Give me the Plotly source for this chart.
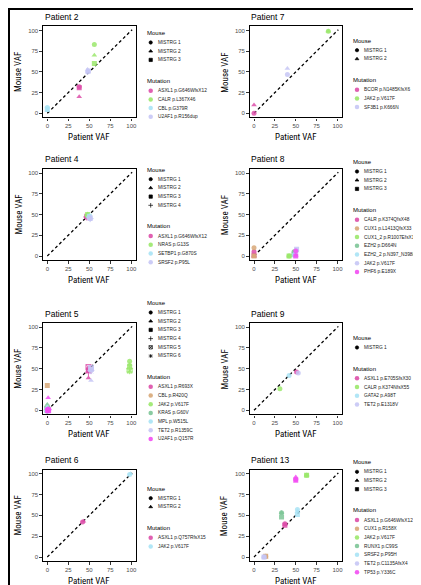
import plotly.graph_objects as go

W, H = 421, 585

# ---------------- data ----------------
mouse_names = ["MISTRG 1", "MISTRG 2", "MISTRG 3", "MISTRG 4", "MISTRG 5", "MISTRG 6"]
tick_values = [0, 25, 50, 75, 100]

# Patient 2
p2_mutations = ["ASXL1 p.G646WfsX12", "CALR p.L367X46", "CBL p.G379R", "U2AF1 p.R156dup"]
p2_mut = [0, 0, 0, 1, 1, 1, 2, 2, 2, 3, 3, 3]
p2_mouse = [1, 2, 3, 1, 2, 3, 1, 2, 3, 1, 2, 3]
p2_patient_vaf = [38, 38, 38, 56, 56, 56, 0, 0, 0, 48, 48, 49]
p2_mouse_vaf = [32, 20, 31, 83, 70, 60, 7, 3, 5, 50, 53, 51]

# Patient 7
p7_mutations = ["BCOR p.N1485KfsX6", "JAK2 p.V617F", "SF3B1 p.K666N"]
p7_mut = [0, 0, 1, 1, 2, 2]
p7_mouse = [1, 2, 1, 2, 1, 2]
p7_patient_vaf = [0, 0, 89, 89, 40, 40]
p7_mouse_vaf = [0, 10, 99, 99, 47, 54]

# Patient 4
p4_mutations = ["ASXL1 p.G646WfsX12", "NRAS p.G13S", "SETBP1 p.G870S", "SRSF2 p.P95L"]
p4_mut = [0, 0, 0, 0, 1, 1, 1, 1, 2, 2, 2, 2, 3, 3, 3, 3]
p4_mouse = [1, 2, 3, 4, 1, 2, 3, 4, 1, 2, 3, 4, 1, 2, 3, 4]
p4_patient_vaf = [47, 47, 47, 47, 48, 48, 48, 48, 50, 50, 50, 50, 51, 51, 51, 51]
p4_mouse_vaf = [47, 46, 48, 47, 49, 48, 50, 49, 47, 46, 48, 47, 45, 44, 46, 45]

# Patient 8
p8_mutations = ["CALR p.K374QfsX48", "CUX1 p.L1413QfsX33", "CUX1_2 p.R1007EfsX11", "EZH2 p.D664N",
                "EZH2_2 p.N397_N398insX", "JAK2 p.V617F", "PHF6 p.E189X"]
p8_mut = [0, 0, 0, 1, 1, 1, 2, 2, 2, 3, 3, 3, 4, 4, 4, 5, 5, 5, 6, 6, 6]
p8_mouse = [1, 2, 3, 1, 2, 3, 1, 2, 3, 1, 2, 3, 1, 2, 3, 1, 2, 3, 1, 2, 3]
p8_patient_vaf = [0, 0, 0, 0, 0, 0, 42, 42, 42, 48, 48, 48, 49, 49, 49, 51, 51, 51, 50, 50, 50]
p8_mouse_vaf = [5, 0, 1, 10, 0, 0, 0, 0, 0, 5, 3, 2, 2, 3, 1, 7, 6, 8, 6, 1, 0]

# Patient 5
p5_mutations = ["ASXL1 p.R693X", "CBL p.R420Q", "JAK2 p.V617F", "KRAS p.G60V", "MPL p.W515L",
                "TET2 p.R1359C", "U2AF1 p.Q157R"]
p5_mut = [0, 0, 0, 0, 0, 0, 1, 1, 1, 1, 1, 1, 2, 2, 2, 2, 2, 2, 3, 3, 3, 3, 3, 3,
          4, 4, 4, 4, 4, 4, 5, 5, 5, 5, 5, 5, 6, 6, 6, 6, 6, 6]
p5_mouse = [1, 2, 3, 4, 5, 6, 1, 2, 3, 4, 5, 6, 1, 2, 3, 4, 5, 6, 1, 2, 3, 4, 5, 6,
            1, 2, 3, 4, 5, 6, 1, 2, 3, 4, 5, 6, 1, 2, 3, 4, 5, 6]
p5_patient_vaf = [49, 49, 49, 49, 49, 49, 0, 0, 0, 0, 0, 0, 98, 98, 98, 98, 98, 98,
                  0, 0, 0, 0, 0, 0, 0, 0, 0, 0, 0, 0, 52, 52, 52, 52, 52, 52, 1, 1, 1, 1, 1, 1]
p5_mouse_vaf = [50, 39, 48, 45, 52, 47, 0, 0, 30, 0, 1, 0, 59, 55, 53, 50, 48, 47,
                1, 7, 0, 0, 2, 0, 0, 4, 1, 0, 0, 0, 50, 36, 49, 48, 51, 47, 1, 15, 0, 1, 0, 0]

# Patient 9
p9_mutations = ["ASXL1 p.E705SfsX30", "CALR p.K374NfsX55", "GATA2 p.A98T", "TET2 p.E1318V"]
p9_mut = [0, 1, 2, 3]
p9_mouse = [1, 1, 1, 1]
p9_patient_vaf = [51, 31, 42, 53]
p9_mouse_vaf = [46, 26, 42, 45]

# Patient 6
p6_mutations = ["ASXL1 p.Q757RfsX15", "JAK2 p.V617F"]
p6_mut = [0, 0, 1, 1]
p6_mouse = [1, 2, 1, 2]
p6_patient_vaf = [42, 43, 98, 99]
p6_mouse_vaf = [42, 43, 99, 100]

# Patient 13
p13_mutations = ["ASXL1 p.G646WfsX12", "CUX1 p.R158X", "JAK2 p.V617F", "RUNX1 p.C99S",
                 "SRSF2 p.P95H", "TET2 p.C1135AfsX4", "TP53 p.Y336C"]
p13_mut = [0, 0, 0, 1, 1, 1, 2, 2, 2, 3, 3, 3, 4, 4, 4, 5, 5, 5, 6, 6, 6]
p13_mouse = [1, 2, 3, 1, 2, 3, 1, 2, 3, 1, 2, 3, 1, 2, 3, 1, 2, 3, 1, 2, 3]
p13_patient_vaf = [37, 37, 37, 14, 14, 14, 63, 63, 63, 33, 33, 33, 52, 52, 52, 12, 12, 12, 50, 50, 50]
p13_mouse_vaf = [40, 39, 38, 1, 0, 1, 98, 98, 98, 53, 53, 48, 57, 55, 51, 0, 0, 0, 93, 96, 92]

# ---------------- styles ----------------
PINK, TAN, GREEN, MGREEN, LBLUE, LAV, MAG = ("#DD4FA9", "#D8A878", "#9BE86C", "#7DC597",
                                             "#A9E3F5", "#C6C6F5", "#F24EF2")
mouse_symbols = ["circle", "triangle-up", "square", "cross-thin-open", "square-x-open", "asterisk-open"]

panels = [
    dict(title="Patient 2", n_mice=3, muts=p2_mutations, mut=p2_mut, mouse=p2_mouse,
         px=p2_patient_vaf, py=p2_mouse_vaf, colors=[PINK, GREEN, LBLUE, LAV], col=0, row=0, leg_top=25),
    dict(title="Patient 7", n_mice=2, muts=p7_mutations, mut=p7_mut, mouse=p7_mouse,
         px=p7_patient_vaf, py=p7_mouse_vaf, colors=[PINK, GREEN, LAV], col=1, row=0, leg_top=32.7),
    dict(title="Patient 4", n_mice=4, muts=p4_mutations, mut=p4_mut, mouse=p4_mouse,
         px=p4_patient_vaf, py=p4_mouse_vaf, colors=[PINK, GREEN, LBLUE, LAV], col=0, row=1, leg_top=161.7),
    dict(title="Patient 8", n_mice=3, muts=p8_mutations, mut=p8_mut, mouse=p8_mouse,
         px=p8_patient_vaf, py=p8_mouse_vaf, colors=[PINK, TAN, GREEN, MGREEN, LBLUE, LAV, MAG],
         col=1, row=1, leg_top=154),
    dict(title="Patient 5", n_mice=6, muts=p5_mutations, mut=p5_mut, mouse=p5_mouse,
         px=p5_patient_vaf, py=p5_mouse_vaf, colors=[PINK, TAN, GREEN, MGREEN, LBLUE, LAV, MAG],
         col=0, row=2, leg_top=295),
    dict(title="Patient 9", n_mice=1, muts=p9_mutations, mut=p9_mut, mouse=p9_mouse,
         px=p9_patient_vaf, py=p9_mouse_vaf, colors=[PINK, GREEN, LBLUE, LAV], col=1, row=2, leg_top=330),
    dict(title="Patient 6", n_mice=2, muts=p6_mutations, mut=p6_mut, mouse=p6_mouse,
         px=p6_patient_vaf, py=p6_mouse_vaf, colors=[PINK, LBLUE], col=0, row=3, leg_top=480.7),
    dict(title="Patient 13", n_mice=3, muts=p13_mutations, mut=p13_mut, mouse=p13_mouse,
         px=p13_patient_vaf, py=p13_mouse_vaf, colors=[PINK, TAN, GREEN, MGREEN, LBLUE, LAV, MAG],
         col=1, row=3, leg_top=454.3),
]

# pixel layout
col_x0 = [39.3, 246.0]      # pixel of x = 0
col_x100 = [123.3, 329.5]   # pixel of x = 100
row_y0 = [105.3, 248.0, 402.3, 549.0]
row_y100 = [22.5, 165.0, 319.2, 465.7]
leg_title_x = [136.7, 342.7]
leg_mark_x = [142.7, 349.0]
leg_text_x = [147.7, 354.0]
ITEM = 8.7
LEG_FONT = 4.8

def fx(p):
    return p / W

def fy(p):
    return 1 - p / H

TXT_FONT = "Liberation Sans, Arial, sans-serif"
NARROW = "Liberation Sans Narrow, Roboto Condensed, Liberation Sans, sans-serif"

fig = go.Figure()
annotations = []
layout_axes = {}

leg_x, leg_y, leg_sym = [], [], []

for k, p in enumerate(panels):
    n = k + 1
    xname = "x" if n == 1 else f"x{n}"
    yname = "y" if n == 1 else f"y{n}"
    c, r = p["col"], p["row"]
    sx = (col_x100[c] - col_x0[c]) / 100.0
    sy = (row_y0[r] - row_y100[r]) / 100.0
    left = col_x0[c] - 5 * sx
    right = col_x100[c] + 5 * sx
    bottom = row_y0[r] + 5 * sy
    top = row_y100[r] - 5 * sy

    axis_common = dict(range=[-5, 105], showgrid=False, zeroline=False, showline=True, mirror=True,
                       linecolor="black", linewidth=1.4, ticks="outside", ticklen=2.5, tickwidth=0.8,
                       tickcolor="#333333", tickvals=tick_values,
                       tickfont=dict(family=TXT_FONT, size=6, color="#4d4d4d"), fixedrange=True)
    layout_axes["xaxis" if n == 1 else f"xaxis{n}"] = dict(axis_common, domain=[fx(left), fx(right)],
                                                           anchor=yname)
    layout_axes["yaxis" if n == 1 else f"yaxis{n}"] = dict(axis_common, domain=[fy(bottom), fy(top)],
                                                           anchor=xname)

    # identity line
    fig.add_trace(go.Scatter(x=[0, 101], y=[0, 101], mode="lines",
                             line=dict(color="black", width=1.3, dash="3px,2.6px"),
                             xaxis=xname, yaxis=yname, showlegend=False, hoverinfo="skip"))
    # points
    cols = [p["colors"][m] for m in p["mut"]]
    syms = [mouse_symbols[m - 1] for m in p["mouse"]]
    lw = [1 if s.endswith("open") else 0 for s in syms]
    fig.add_trace(go.Scatter(x=p["px"], y=p["py"], mode="markers",
                             marker=dict(color=cols, symbol=syms, size=5, opacity=0.85,
                                         line=dict(color=cols, width=lw)),
                             xaxis=xname, yaxis=yname, showlegend=False))

    # titles
    annotations.append(dict(text=p["title"], x=fx(left - 0.5), y=fy(top - 2.5), xref="paper", yref="paper",
                            xanchor="left", yanchor="bottom", showarrow=False,
                            font=dict(family=TXT_FONT, size=8.5, color="black")))
    annotations.append(dict(text="Patient VAF", x=fx((left + right) / 2), y=fy(bottom + 20), xref="paper",
                            yref="paper", xanchor="center", yanchor="middle", showarrow=False,
                            font=dict(family=NARROW, size=9, color="black")))
    annotations.append(dict(text="Mouse VAF", x=fx(left - 25), y=fy((top + bottom) / 2), xref="paper",
                            yref="paper", xanchor="center", yanchor="middle", showarrow=False, textangle=-90,
                            font=dict(family=NARROW, size=9, color="black")))

    # manual legend
    ty = p["leg_top"]
    annotations.append(dict(text="Mouse", x=fx(leg_title_x[c]), y=fy(ty), xref="paper", yref="paper",
                            xanchor="left", yanchor="middle", showarrow=False,
                            font=dict(family=TXT_FONT, size=6, color="black")))
    yy = ty + 9.5
    for i in range(p["n_mice"]):
        leg_x.append(leg_mark_x[c]); leg_y.append(yy); leg_sym.append(mouse_symbols[i])
        annotations.append(dict(text=mouse_names[i], x=fx(leg_text_x[c]), y=fy(yy), xref="paper",
                                yref="paper", xanchor="left", yanchor="middle", showarrow=False,
                                font=dict(family=TXT_FONT, size=LEG_FONT, color="#222222")))
        yy += ITEM
    yy += 21 - ITEM
    annotations.append(dict(text="Mutation", x=fx(leg_title_x[c]), y=fy(yy), xref="paper", yref="paper",
                            xanchor="left", yanchor="middle", showarrow=False,
                            font=dict(family=TXT_FONT, size=6, color="black")))
    yy += 9.8
    for i, name in enumerate(p["muts"]):
        fig.add_trace(go.Scatter(x=[leg_mark_x[c]], y=[yy], mode="markers",
                                 marker=dict(color=p["colors"][i], size=4.5, symbol="circle", opacity=0.9),
                                 xaxis="x9", yaxis="y9", showlegend=False, hoverinfo="skip"))
        annotations.append(dict(text=name, x=fx(leg_text_x[c]), y=fy(yy), xref="paper", yref="paper",
                                xanchor="left", yanchor="middle", showarrow=False,
                                font=dict(family=TXT_FONT, size=LEG_FONT, color="#222222")))
        yy += ITEM

fig.add_trace(go.Scatter(x=leg_x, y=leg_y, mode="markers",
                         marker=dict(color="black", size=3.3, symbol=leg_sym, line=dict(color="black", width=0.7)),
                         xaxis="x9", yaxis="y9", showlegend=False, hoverinfo="skip"))

layout_axes["xaxis9"] = dict(domain=[0, 1], range=[0, W], visible=False, fixedrange=True, anchor="y9")
layout_axes["yaxis9"] = dict(domain=[0, 1], range=[H, 0], visible=False, fixedrange=True, anchor="x9")

fig.update_layout(
    width=W, height=H, margin=dict(l=0, r=0, t=0, b=0),
    paper_bgcolor="white", plot_bgcolor="rgba(0,0,0,0)",
    showlegend=False, annotations=annotations,
    shapes=[dict(type="rect", xref="paper", yref="paper", x0=fx(1), y0=fy(1), x1=fx(420), y1=fy(584),
                 line=dict(color="black", width=2))],
    **layout_axes,
)

fig.write_html("out.html")
